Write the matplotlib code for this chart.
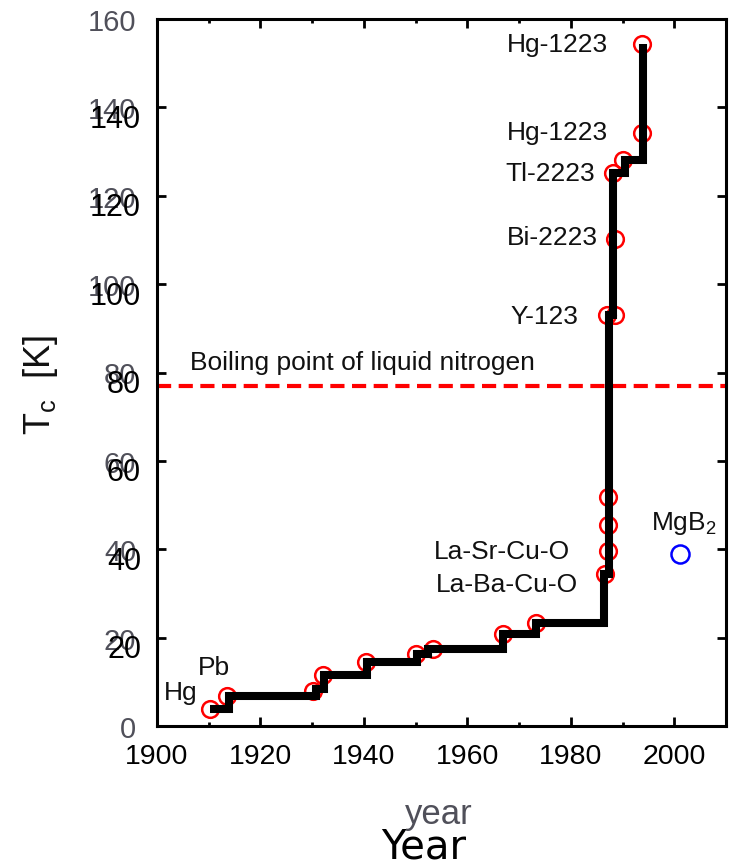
import matplotlib
matplotlib.use("Agg")
import matplotlib.pyplot as plt

plt.rcParams['font.family'] = ['Liberation Sans', 'DejaVu Sans']
plt.rcParams['mathtext.fontset'] = 'custom'
plt.rcParams['mathtext.rm'] = 'Liberation Sans'
plt.rcParams['mathtext.it'] = 'Liberation Sans'

# ---------------- data ----------------
# record Tc step curve (year, Tc [K])
record_years = [1910.3, 1914.0, 1930.8, 1932.3, 1940.6, 1950.3, 1952.3, 1966.9,
                1973.3, 1986.5, 1987.4, 1988.2, 1990.5, 1994.0]
record_tc = [3.8, 6.8, 8.3, 11.5, 14.5, 16.3, 17.4, 20.8,
             23.3, 34.4, 93.0, 125.1, 128.1, 154.3]

# discoveries marked by red circles
disc_years = [1910.3, 1913.5, 1930.2, 1932.1, 1940.4, 1950.1, 1953.4, 1966.9, 1973.3,
              1986.7, 1987.2, 1987.2, 1987.2, 1987.0, 1988.6, 1988.6, 1988.2, 1990.1,
              1993.8, 1993.8]
disc_tc = [3.8, 6.8, 7.9, 11.5, 14.5, 16.3, 17.4, 20.8, 23.3,
           34.4, 39.6, 45.5, 51.8, 93.0, 93.0, 110.2, 125.1, 128.1,
           134.2, 154.3]

mgb2_year = [2001.2]
mgb2_tc = [38.9]

ln2_tc = 77

# material labels: (text, year, Tc, ha)
labels = [
    ("Hg-1223", 1987.2, 154.3, 'right'),
    ("Hg-1223", 1987.2, 134.4, 'right'),
    ("Tl-2223", 1984.7, 125.1, 'right'),
    ("Bi-2223", 1985.3, 110.6, 'right'),
    ("Y-123", 1981.4, 92.8, 'right'),
    ("La-Sr-Cu-O", 1979.9, 39.6, 'right'),
    ("La-Ba-Cu-O", 1981.4, 32.1, 'right'),
    (r"MgB$_\mathregular{2}$", 2001.8, 46.0, 'center'),
    ("Hg", 1907.9, 7.7, 'right'),
    ("Pb", 1911.0, 13.3, 'center'),
]

x_major = [1900, 1920, 1940, 1960, 1980, 2000]
x_minor = [1910, 1930, 1950, 1970, 1990]
y_ticks = [0, 20, 40, 60, 80, 100, 120, 140, 160]
y_ticks_black = [20, 40, 60, 80, 100, 120, 140]

W, H = 732, 862
fig = plt.figure(figsize=(W / 100, H / 100), dpi=100)
L, R, T, B = 157, 726, 20, 727
rect = [L / W, (H - B) / H, (R - L) / W, (B - T) / H]
ax = fig.add_axes(rect)

grey = '#50505a'

ax.axhline(ln2_tc, color='#ff0000', lw=3, ls=(0, (3.4, 1.8)), zorder=1, clip_on=False)
ax.plot(disc_years, disc_tc, 'o', ms=12, mfc='none', mec='#ff0000', mew=1.8, zorder=2)
ax.plot(mgb2_year, mgb2_tc, 'o', ms=13, mfc='none', mec='#0000ff', mew=1.8, zorder=2)
ax.step(record_years, record_tc, where='post', color='black', lw=5.8,
        solid_joinstyle='miter', solid_capstyle='butt', zorder=3)

for txt, xx, yy, ha in labels:
    ax.text(xx, yy, txt, ha=ha, va='center', fontsize=19, color='#111111')

ax.text(1906.4, 80.8, "Boiling point of liquid nitrogen", ha='left', va='baseline',
        fontsize=19, color='#111111')

ax.set_xlim(1900, 2010)
ax.set_ylim(0, 160)
ax.set_xticks(x_major)
ax.set_xticks(x_minor, minor=True)
ax.set_xticklabels([str(v) for v in x_major])
ax.set_yticks(y_ticks)
ax.set_yticklabels([str(v) for v in y_ticks])
for s in ax.spines.values():
    s.set_linewidth(2.2)
ax.tick_params(which='both', direction='in', top=True, right=True, width=2)
ax.tick_params(which='major', length=6.5)
ax.tick_params(which='minor', length=3.2)
ax.tick_params(axis='x', labelsize=20.5, pad=12, labelcolor='black')
ax.tick_params(axis='y', labelsize=21, pad=15, labelcolor=grey)

# overlaid black y tick labels (slightly shifted down and right)
dx, dy = 0, -8
rect2 = [(L + dx) / W, (H - B + dy) / H, (R - L) / W, (B - T) / H]
ax2 = fig.add_axes(rect2, facecolor='none')
ax2.set_ylim(0, 160)
ax2.set_yticks(y_ticks_black)
ax2.set_yticklabels([str(v) for v in y_ticks_black])
ax2.set_xticks([])
for s in ax2.spines.values():
    s.set_visible(False)
ax2.tick_params(axis='y', length=0, labelsize=22, pad=11.5, labelcolor='black')

fig.text(40 / W, 1 - 385 / H, r"T$_\mathregular{c}$  [K]", rotation=90, ha='center',
         va='center', fontsize=26, color='#111111')
fig.text(439 / W, 1 - 815 / H, "year", ha='center', va='center', fontsize=25, color=grey)
fig.text(424 / W, 1 - 848 / H, "Year", ha='center', va='center', fontsize=29,
         color='black', family='DejaVu Sans')

fig.savefig('out.png', dpi=100)
